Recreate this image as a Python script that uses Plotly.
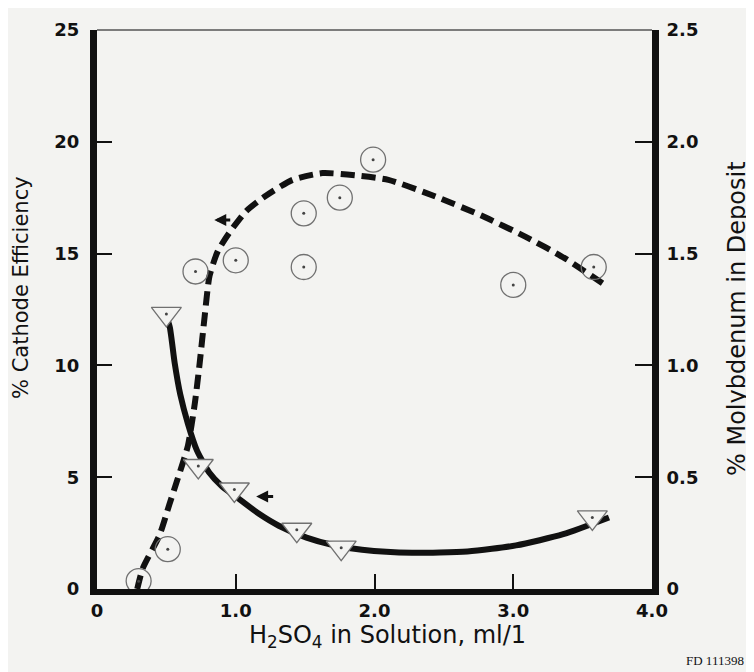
import plotly.graph_objects as go

# ---- data ----
# Circles: % cathode efficiency (left axis)
circ_x = [0.30, 0.51, 0.71, 1.00, 1.49, 1.49, 1.75, 1.99, 3.00, 3.58]
circ_y = [0.35, 1.78, 14.2, 14.7, 16.8, 14.4, 17.5, 19.2, 13.6, 14.4]

# Triangles: % molybdenum in deposit (right axis)
tri_x = [0.50, 0.73, 0.99, 1.44, 1.76, 3.57]
tri_y = [1.23, 0.55, 0.445, 0.265, 0.185, 0.32]

# Dashed fitted curve (left axis)
dash_x = [0.29, 0.33, 0.45, 0.52, 0.58, 0.655, 0.705, 0.74, 0.776, 0.811, 0.87, 0.95,
          1.075, 1.22, 1.41, 1.625, 1.865, 2.10, 2.44, 2.77, 3.09, 3.37, 3.66]
dash_y = [0.0, 0.93, 2.4, 3.75, 4.9, 6.4, 8.3, 10.1, 12.2, 14.0, 15.1, 15.9,
          16.9, 17.6, 18.3, 18.6, 18.5, 18.3, 17.55, 16.7, 15.75, 14.8, 13.6]

# Solid fitted curve (right axis)
solid_x = [0.50, 0.525, 0.56, 0.60, 0.655, 0.72, 0.81, 0.90, 1.03, 1.17, 1.31, 1.51,
           1.70, 1.91, 2.27, 2.67, 3.02, 3.36, 3.69]
solid_y = [1.22, 1.17, 1.01, 0.87, 0.74, 0.62, 0.52, 0.46, 0.40, 0.335, 0.283, 0.23,
           0.197, 0.176, 0.162, 0.168, 0.195, 0.245, 0.32]

x_ticks = [0, 1, 2, 3, 4]
x_tick_labels = ["0", "1.0", "2.0", "3.0", "4.0"]
yl_ticks = [0, 5, 10, 15, 20, 25]
yl_tick_labels = ["0", "5", "10", "15", "20", "25"]
yr_ticks = [0, 0.5, 1.0, 1.5, 2.0, 2.5]
yr_tick_labels = ["0", "0.5", "1.0", "1.5", "2.0", "2.5"]

BG = "#f3f3f1"
INK = "#111111"
MK = "#707070"

fig = go.Figure()

fig.add_trace(go.Scatter(x=dash_x, y=dash_y, mode="lines",
                         line=dict(color=INK, width=6, dash="14px,7px", shape="spline", smoothing=0.6),
                         hoverinfo="skip", showlegend=False))
fig.add_trace(go.Scatter(x=solid_x, y=solid_y, mode="lines", yaxis="y2",
                         line=dict(color=INK, width=6, shape="spline", smoothing=0.6),
                         hoverinfo="skip", showlegend=False))

# circles
fig.add_trace(go.Scatter(x=circ_x, y=circ_y, mode="markers",
                         marker=dict(symbol="circle-open", size=25, color=MK, line=dict(width=1.3, color=MK)),
                         showlegend=False))
fig.add_trace(go.Scatter(x=circ_x, y=circ_y, mode="markers",
                         marker=dict(symbol="circle", size=3, color="#444"),
                         showlegend=False, hoverinfo="skip"))
# triangles
fig.add_trace(go.Scatter(x=tri_x, y=tri_y, mode="markers", yaxis="y2",
                         marker=dict(symbol="triangle-down", size=26, color=BG, line=dict(width=1.3, color=MK)),
                         showlegend=False))
fig.add_trace(go.Scatter(x=tri_x, y=tri_y, mode="markers", yaxis="y2",
                         marker=dict(symbol="circle", size=3, color="#444"),
                         showlegend=False, hoverinfo="skip"))

tickfont = dict(family="DejaVu Sans", size=18, color=INK, weight="bold")
titlefont = dict(family="DejaVu Sans", color=INK)

# The page body adds an 8px margin, so the figure is laid out 8px smaller / shifted.
OFF = 8
W, H = 754 - OFF, 672 - OFF
L = 97 - OFF            # left axis at ref x=97
R = W - (652 - OFF)     # right axis at ref x=652
T = 30 - OFF            # top at ref y=30
B = H - (589 - OFF)     # bottom at ref y=589
pw, ph = W - L - R, H - T - B

def px(xref_px):
    return (xref_px - OFF - L) / pw

def py(yref_px):
    return (H - B - (yref_px - OFF)) / ph

fig.update_layout(
    width=W, height=H,
    margin=dict(l=L, r=R, t=T, b=B, autoexpand=False),
    paper_bgcolor=BG, plot_bgcolor=BG,
    showlegend=False,
    xaxis=dict(range=[0, 4], tickvals=x_ticks, ticktext=x_tick_labels,
               showgrid=False, zeroline=False, showline=True, linewidth=6, linecolor=INK,
               ticks="inside", ticklen=15, tickwidth=2, tickcolor=INK,
               tickfont=tickfont, ticklabelstandoff=0),
    yaxis=dict(range=[0, 25], tickvals=yl_ticks, ticktext=yl_tick_labels,
               showgrid=False, zeroline=False, showline=True, linewidth=7, linecolor=INK,
               ticks="inside", ticklen=15, tickwidth=2, tickcolor=INK,
               tickfont=tickfont, ticklabelstandoff=7),
    yaxis2=dict(range=[0, 2.5], tickvals=yr_ticks, ticktext=yr_tick_labels,
                overlaying="y", side="right",
                showgrid=False, zeroline=False, showline=True, linewidth=7, linecolor=INK,
                ticks="inside", ticklen=17, tickwidth=2, tickcolor=INK,
                tickfont=tickfont, ticklabelstandoff=4),
)

# thin top frame line
fig.add_shape(type="line", xref="paper", yref="paper", x0=0, x1=1, y0=1, y1=1,
              line=dict(color="#555", width=1.5))

# titles
fig.add_annotation(text="% Cathode Efficiency", xref="paper", yref="paper",
                   x=px(21), y=py(288), textangle=-90, showarrow=False,
                   font=dict(size=21, **titlefont), xanchor="center", yanchor="middle")
fig.add_annotation(text="% Molybdenum in Deposit", xref="paper", yref="paper",
                   x=px(737), y=py(319), textangle=-90, showarrow=False,
                   font=dict(size=24, **titlefont), xanchor="center", yanchor="middle")
fig.add_annotation(text="H<sub>2</sub>SO<sub>4</sub> in Solution, ml/1", xref="paper", yref="paper",
                   x=px(387), y=py(636), showarrow=False,
                   font=dict(size=24, **titlefont), xanchor="center", yanchor="middle")
fig.add_annotation(text="FD 111398", xref="paper", yref="paper",
                   x=px(684), y=py(660), showarrow=False,
                   font=dict(size=13, family="Liberation Serif", color=INK),
                   xanchor="left", yanchor="middle")

# small pointer arrows
fig.add_annotation(x=0.845, y=16.5, xref="x", yref="y", text=" ", showarrow=True,
                   ax=19, ay=0, arrowhead=2, arrowsize=0.8, arrowwidth=3, arrowcolor=INK)
fig.add_annotation(x=1.147, y=4.14, xref="x", yref="y", text=" ", showarrow=True,
                   ax=20, ay=0, arrowhead=2, arrowsize=0.8, arrowwidth=3, arrowcolor=INK)

fig.write_html("out.html")
